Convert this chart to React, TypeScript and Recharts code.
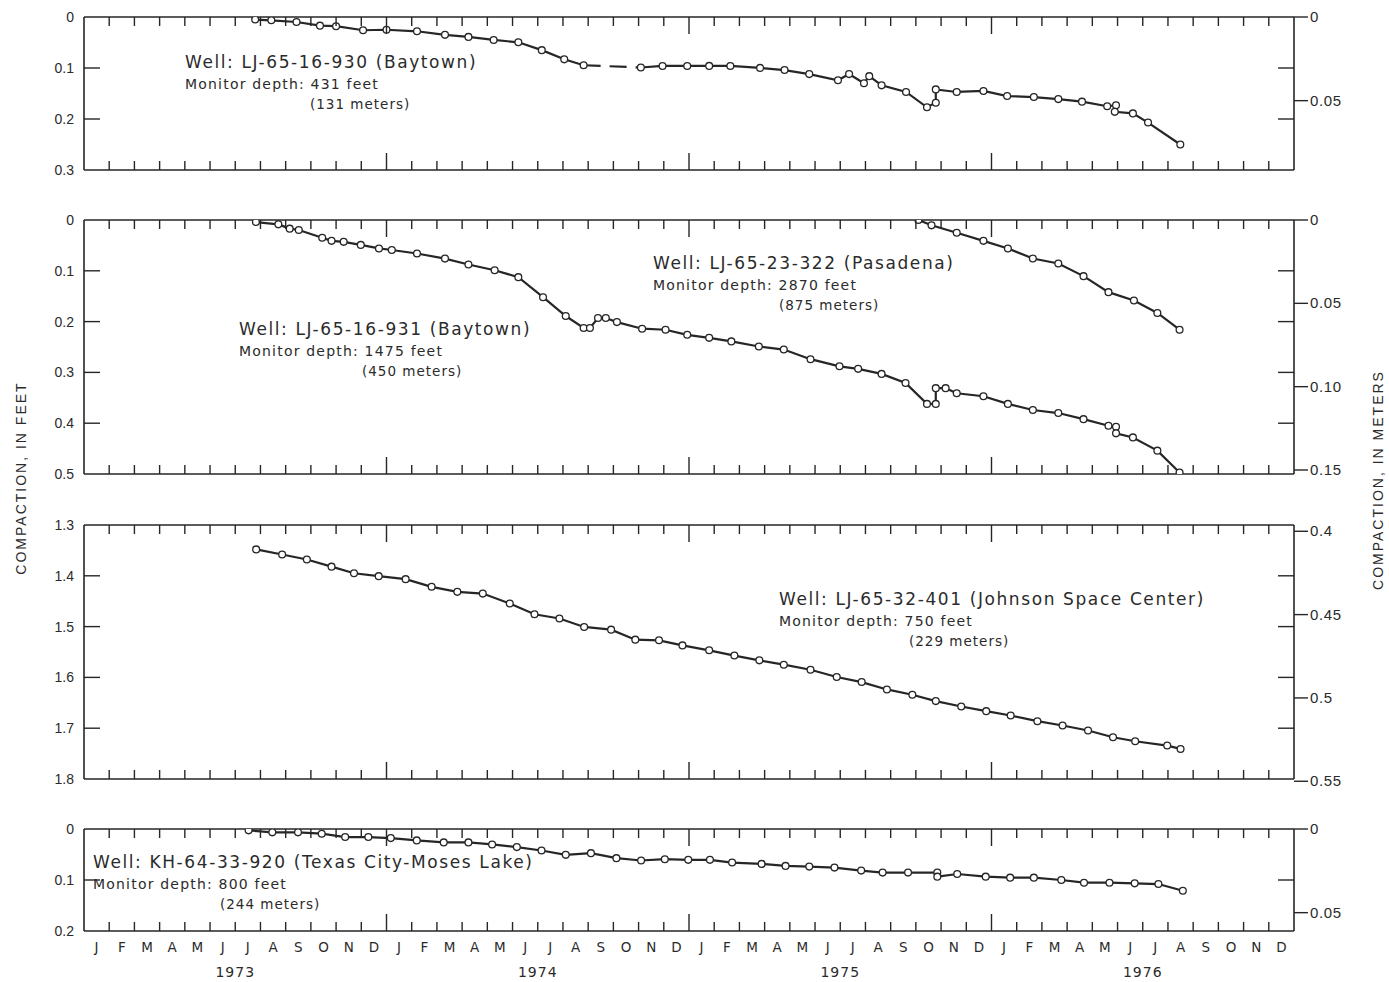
import React from "react";
import { LineChart, Line, XAxis, YAxis, ReferenceLine } from "recharts";

// x = months since 1 Jan 1973, y = compaction in feet
const MONTH_LABELS = ["J", "F", "M", "A", "M", "J", "J", "A", "S", "O", "N", "D"];
const YEAR_LABELS = ["1973", "1974", "1975", "1976"];
const M_TO_FT = 1 / 0.3048;

const WELL_930: [number, number][] = [
  [6.79, 0.005], [7.43, 0.0065], [8.43, 0.0098], [9.36, 0.017], [10.0, 0.018],
  [11.07, 0.026], [12.0, 0.025], [13.21, 0.028], [14.32, 0.035], [15.25, 0.039],
  [16.25, 0.045], [17.23, 0.0496], [18.16, 0.065], [19.05, 0.083], [19.82, 0.0946],
];
const WELL_930_GAP: [number, number][] = [[19.82, 0.0946], [22.09, 0.099]];
const WELL_930_LATE: [number, number][] = [
  [22.09, 0.099], [22.95, 0.096], [23.93, 0.096], [24.8, 0.0959], [25.64, 0.096],
  [26.82, 0.0998], [27.79, 0.104], [28.77, 0.112], [29.91, 0.124], [30.35, 0.112],
  [30.94, 0.13], [31.15, 0.116], [31.64, 0.134], [32.61, 0.147], [33.44, 0.177],
  [33.79, 0.168], [33.79, 0.142], [34.62, 0.147], [35.68, 0.145], [36.62, 0.155],
  [37.68, 0.157], [38.65, 0.161], [39.59, 0.166], [40.59, 0.175], [40.94, 0.173],
  [40.89, 0.186], [41.61, 0.189], [42.21, 0.207], [43.49, 0.25],
];

const WELL_931: [number, number][] = [
  [6.82, 0.004], [7.71, 0.0086], [8.16, 0.017], [8.52, 0.0197], [9.45, 0.035],
  [9.82, 0.041], [10.3, 0.043], [10.98, 0.049], [11.7, 0.056], [12.21, 0.059],
  [13.21, 0.066], [14.32, 0.076], [15.25, 0.0875], [16.29, 0.099], [17.23, 0.1125],
  [18.21, 0.152], [19.11, 0.189], [19.82, 0.2125], [20.07, 0.2125], [20.39, 0.193],
  [20.7, 0.193], [21.14, 0.201], [22.14, 0.214], [23.07, 0.216], [23.93, 0.226],
  [24.8, 0.232], [25.68, 0.239], [26.77, 0.249], [27.76, 0.255], [28.82, 0.274],
  [29.97, 0.288], [30.71, 0.293], [31.64, 0.303], [32.59, 0.321], [33.44, 0.362],
  [33.79, 0.362], [33.79, 0.331], [34.18, 0.331], [34.62, 0.341], [35.68, 0.347],
  [36.65, 0.362], [37.64, 0.374], [38.65, 0.38], [39.65, 0.392], [40.64, 0.405],
  [40.94, 0.407], [40.94, 0.42], [41.61, 0.428], [42.58, 0.454], [43.46, 0.497],
];

const WELL_322: [number, number][] = [
  [33.1, 0.0], [33.62, 0.0105], [34.62, 0.025], [35.68, 0.041], [36.65, 0.056],
  [37.64, 0.0757], [38.65, 0.0855], [39.65, 0.1105], [40.64, 0.142], [41.65, 0.1586],
  [42.58, 0.183], [43.46, 0.216],
];

const WELL_401: [number, number][] = [
  [6.83, 1.348], [7.86, 1.358], [8.84, 1.368], [9.82, 1.382], [10.71, 1.395],
  [11.69, 1.4007], [12.76, 1.4066], [13.79, 1.4217], [14.81, 1.4316], [15.82, 1.435],
  [16.89, 1.4546], [17.87, 1.4757], [18.86, 1.484], [19.84, 1.5007], [20.91, 1.506],
  [21.87, 1.5257], [22.81, 1.527], [23.74, 1.537], [24.8, 1.5467], [25.8, 1.557],
  [26.79, 1.5664], [27.76, 1.575], [28.82, 1.5849], [29.86, 1.5993], [30.85, 1.6092],
  [31.85, 1.6237], [32.86, 1.6342], [33.79, 1.6467], [34.8, 1.6572], [35.79, 1.6664],
  [36.76, 1.675], [37.82, 1.6862], [38.82, 1.6947], [39.83, 1.7046], [40.82, 1.7178],
  [41.7, 1.7257], [42.97, 1.7342], [43.5, 1.7408],
];

const WELL_920: [number, number][] = [
  [6.53, 0.0026], [7.47, 0.0066], [8.49, 0.0066], [9.43, 0.0092], [10.36, 0.0158],
  [11.28, 0.0158], [12.17, 0.0178], [13.2, 0.0224], [14.27, 0.0263], [15.25, 0.0263],
  [16.19, 0.0303], [17.17, 0.0355], [18.15, 0.0421], [19.11, 0.0507], [20.11, 0.0474],
  [21.12, 0.0572], [22.1, 0.0618], [23.04, 0.0592], [23.97, 0.0605], [24.83, 0.0605],
  [25.71, 0.0658], [26.88, 0.0684], [27.83, 0.0724], [28.77, 0.0737], [29.77, 0.0757],
  [30.83, 0.0816], [31.68, 0.0855], [32.69, 0.0855], [33.85, 0.0855], [33.85, 0.0934],
  [34.64, 0.0882], [35.77, 0.0934], [36.74, 0.0954], [37.68, 0.0954], [38.77, 0.1],
  [39.67, 0.1053], [40.68, 0.1053], [41.68, 0.1066], [42.62, 0.1079], [43.59, 0.121],
];

const MONTH_EDGES = Array.from({ length: 49 }, (_, i) => i);
const MONTH_MIDS = MONTH_EDGES.slice(0, 48).map((i) => i + 0.5);

const INK = "#262626";
const TEXT = "#2b2b2b";
const TICK_FONT = "'Liberation Sans', Arial, sans-serif";
const NOTE_FONT = "'DejaVu Sans', sans-serif";

const toRows = (pts: [number, number][]) => pts.map(([m, v]) => ({ m, v }));

const Dot = (props: any) => {
  const { cx, cy } = props;
  if (cx == null || cy == null) return <g />;
  return <circle cx={cx} cy={cy} r={3.4} fill="#fff" stroke={INK} strokeWidth={1.3} />;
};

// month ticks on the bottom and top edges (pointing inwards), month and year letters under the last panel
const MonthTick = (props: any) => {
  const { x, y, payload, showLabels, plotH } = props;
  const v = payload.value;
  if (Number.isInteger(v)) {
    const len = v % 12 === 0 ? 17 : 9;
    const inner = v > 0 && v < 48;
    return (
      <g>
        {inner && <line x1={x} x2={x} y1={y} y2={y - len} stroke={INK} strokeWidth={1.4} />}
        {inner && <line x1={x} x2={x} y1={y - plotH} y2={y - plotH + len} stroke={INK} strokeWidth={1.4} />}
        {showLabels && v % 12 === 6 && (
          <text x={x} y={y + 46} textAnchor="middle" fontSize={14} fill={TEXT}
            fontFamily={NOTE_FONT} letterSpacing={1}>
            {YEAR_LABELS[Math.floor(v / 12)]}
          </text>
        )}
      </g>
    );
  }
  if (!showLabels) return <g />;
  return (
    <text x={x} y={y + 21} textAnchor="middle" fontSize={13.5} fill={TEXT} fontFamily={NOTE_FONT}>
      {MONTH_LABELS[Math.floor(v) % 12]}
    </text>
  );
};

const LeftTick = (props: any) => {
  const { x, y, payload, domain } = props;
  const v = payload.value;
  const edge = v === domain[0] || v === domain[1];
  return (
    <g>
      {!edge && <line x1={x} x2={x + 16} y1={y} y2={y} stroke={INK} strokeWidth={1.4} />}
      <text x={x - 10} y={y} dy={5} textAnchor="end" fontSize={14} fill={TEXT} fontFamily={TICK_FONT}>
        {v === 0 ? "0" : v.toFixed(1)}
      </text>
    </g>
  );
};

const RightTick = (props: any) => {
  const { x, y, payload, metric, metricLabels } = props;
  const v = payload.value;
  const idx = metric.findIndex((m: number) => Math.abs(m * M_TO_FT - v) < 1e-9);
  if (idx < 0) {
    return <line x1={x - 16} x2={x} y1={y} y2={y} stroke={INK} strokeWidth={1.4} />;
  }
  return (
    <g>
      <line x1={x} x2={x + 14} y1={y} y2={y} stroke={INK} strokeWidth={1.4} />
      <text x={x + 16} y={y} dy={5} textAnchor="start" fontSize={15} fill={TEXT}
        fontFamily={TICK_FONT} letterSpacing={0.6}>
        {metricLabels[idx]}
      </text>
    </g>
  );
};

type Series = { pts: [number, number][]; dashed?: boolean };

type PanelProps = {
  plotTop: number;
  plotH: number;
  domain: [number, number];
  ftTicks: number[];
  metric: number[];
  metricLabels: string[];
  series: Series[];
  showLabels?: boolean;
};

const MT = 12;
const MB = 12;

const Panel = ({ plotTop, plotH, domain, ftTicks, metric, metricLabels, series, showLabels }: PanelProps) => {
  const bottomH = showLabels ? 52 : 1;
  const height = MT + plotH + bottomH + MB;
  const rightTicks = [...ftTicks, ...metric.map((m) => m * M_TO_FT)];
  const leftTicks = [domain[0], ...ftTicks, domain[1]];
  return (
    <div style={{ position: "absolute", left: 0, top: plotTop - MT }}>
      <LineChart width={1389} height={height} margin={{ top: MT, right: 0, left: 0, bottom: MB }}>
        <XAxis
          xAxisId="b" type="number" dataKey="m" domain={[0, 48]} orientation="bottom"
          ticks={showLabels ? [...MONTH_EDGES, ...MONTH_MIDS] : MONTH_EDGES}
          interval={0} height={bottomH} tickSize={0} tickMargin={0}
          axisLine={false} tickLine={false}
          tick={<MonthTick showLabels={showLabels} plotH={plotH} />}
        />
        <YAxis
          yAxisId="l" type="number" domain={domain} reversed ticks={leftTicks} interval={0}
          width={84} tickSize={0} tickMargin={0} allowDataOverflow
          axisLine={{ stroke: INK, strokeWidth: 1.6 }} tickLine={false}
          tick={<LeftTick domain={domain} />}
        />
        <YAxis
          yAxisId="r" orientation="right" type="number" domain={domain} reversed
          ticks={rightTicks} interval={0} width={95} tickSize={0} tickMargin={0} allowDataOverflow
          axisLine={{ stroke: INK, strokeWidth: 1.6 }} tickLine={false}
          tick={<RightTick metric={metric} metricLabels={metricLabels} />}
        />
        <ReferenceLine xAxisId="b" yAxisId="l" y={domain[0]} stroke={INK} strokeWidth={1.6} />
        <ReferenceLine xAxisId="b" yAxisId="l" y={domain[1]} stroke={INK} strokeWidth={1.6} />
        {series.map((s, i) => (
          <Line
            key={i} xAxisId="b" yAxisId="l" data={toRows(s.pts)} dataKey="v" type="linear"
            stroke={INK} strokeWidth={2.2} strokeDasharray={s.dashed ? "17 9" : undefined}
            dot={s.dashed ? false : <Dot />} activeDot={false} isAnimationActive={false}
          />
        ))}
      </LineChart>
    </div>
  );
};

const Note = ({ x, y, size, children, spacing }: any) => (
  <div style={{
    position: "absolute", left: x, top: y, fontSize: size, lineHeight: 1, whiteSpace: "nowrap",
    fontFamily: NOTE_FONT, color: TEXT, letterSpacing: spacing,
  }}>
    {children}
  </div>
);

const WellNote = ({ x, y, title, depth, meters, mx }: any) => (
  <>
    <Note x={x} y={y - 10} size={17} spacing={1.6}>{title}</Note>
    <Note x={x} y={y + 13} size={14} spacing={1.2}>{depth}</Note>
    <Note x={mx} y={y + 34} size={13.5} spacing={1}>{meters}</Note>
  </>
);

export default function App() {
  return (
    <div style={{ position: "absolute", left: 0, top: 0, width: 1389, height: 982, background: "#fff", overflow: "hidden" }}>
      <Panel plotTop={17} plotH={153} domain={[0, 0.3]} ftTicks={[0.1, 0.2]}
        metric={[0, 0.05]} metricLabels={["0", "0.05"]}
        series={[{ pts: WELL_930 }, { pts: WELL_930_GAP, dashed: true }, { pts: WELL_930_LATE }]} />
      <Panel plotTop={220} plotH={254} domain={[0, 0.5]} ftTicks={[0.1, 0.2, 0.3, 0.4]}
        metric={[0, 0.05, 0.1, 0.15]} metricLabels={["0", "0.05", "0.10", "0.15"]}
        series={[{ pts: WELL_931 }, { pts: WELL_322 }]} />
      <Panel plotTop={525} plotH={254} domain={[1.3, 1.8]} ftTicks={[1.4, 1.5, 1.6, 1.7]}
        metric={[0.4, 0.45, 0.5, 0.55]} metricLabels={["0.4", "0.45", "0.5", "0.55"]}
        series={[{ pts: WELL_401 }]} />
      <Panel plotTop={829} plotH={102} domain={[0, 0.2]} ftTicks={[0.1]}
        metric={[0, 0.05]} metricLabels={["0", "0.05"]}
        series={[{ pts: WELL_920 }]} showLabels />

      <WellNote x={185} y={64} mx={310} title="Well: LJ-65-16-930 (Baytown)"
        depth="Monitor depth: 431 feet" meters="(131 meters)" />
      <WellNote x={239} y={331} mx={362} title="Well: LJ-65-16-931 (Baytown)"
        depth="Monitor depth: 1475 feet" meters="(450 meters)" />
      <WellNote x={653} y={265} mx={779} title="Well: LJ-65-23-322 (Pasadena)"
        depth="Monitor depth: 2870 feet" meters="(875 meters)" />
      <WellNote x={779} y={601} mx={909} title="Well: LJ-65-32-401 (Johnson Space Center)"
        depth="Monitor depth: 750 feet" meters="(229 meters)" />
      <WellNote x={93} y={864} mx={220} title="Well: KH-64-33-920 (Texas City-Moses Lake)"
        depth="Monitor depth: 800 feet" meters="(244 meters)" />

      <div style={{
        position: "absolute", left: 21, top: 478, transform: "translate(-50%, -50%) rotate(-90deg)",
        fontFamily: TICK_FONT, fontSize: 14, letterSpacing: 2, color: TEXT, whiteSpace: "nowrap",
      }}>COMPACTION, IN FEET</div>
      <div style={{
        position: "absolute", left: 1378, top: 480, transform: "translate(-50%, -50%) rotate(-90deg)",
        fontFamily: TICK_FONT, fontSize: 14, letterSpacing: 2, color: TEXT, whiteSpace: "nowrap",
      }}>COMPACTION, IN METERS</div>
    </div>
  );
}
